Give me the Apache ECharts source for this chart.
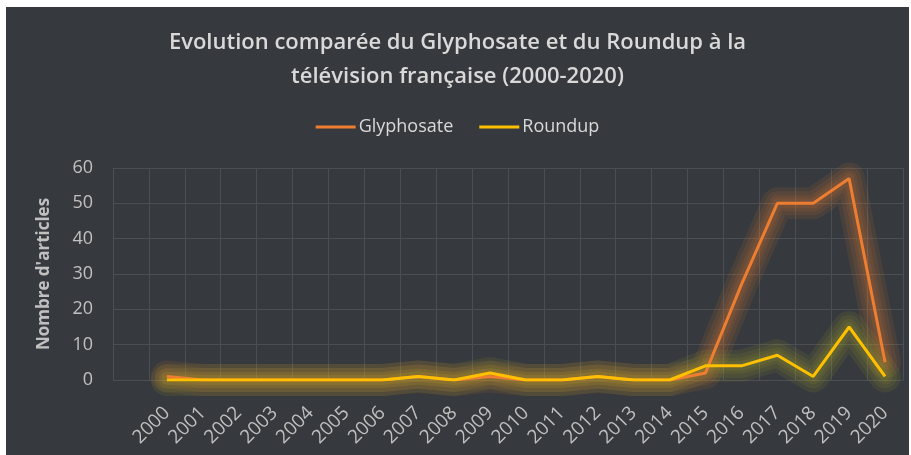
<!DOCTYPE html>
<html>
<head>
<meta charset="utf-8">
<script src="https://cdn.jsdelivr.net/npm/echarts@6/dist/echarts.min.js"></script>
<style>
  html, body { margin: 0; padding: 0; background: #fff; }
  #mainChart { position: absolute; left: 6px; top: 7px; width: 903px; height: 448px; }
</style>
</head>
<body>
<div id="mainChart"></div>
<script>
// first slot is empty, like the original chart's blank band
const years = ['', '2000', '2001', '2002', '2003', '2004', '2005', '2006', '2007', '2008', '2009', '2010',
  '2011', '2012', '2013', '2014', '2015', '2016', '2017', '2018', '2019', '2020'];
const glyphosate = [null, 1, 0, 0, 0, 0, 0, 0, 1, 0, 1, 0, 0, 1, 0, 0, 2, 27, 50, 50, 57, 5];
const roundup = [null, 0, 0, 0, 0, 0, 0, 0, 1, 0, 2, 0, 0, 1, 0, 0, 4, 4, 7, 1, 15, 1];
const yTicks = [0, 10, 20, 30, 40, 50, 60];

const font = '"Open Sans", "Noto Sans", sans-serif';

// soft halo under each line: a few wide translucent strokes
function glow(data, rgb) {
  return [32, 24, 16, 10].map(function (w) {
    return {
      type: 'line',
      data: data,
      symbol: 'none',
      silent: true,
      z: 1,
      lineStyle: { color: 'rgba(' + rgb + ',0.1)', width: w, cap: 'round', join: 'round' }
    };
  });
}

const option = {
  backgroundColor: '#36393d',
  title: {
    text: 'Evolution comparée du Glyphosate et du Roundup à la\ntélévision française (2000-2020)',
    left: 'center',
    top: 14,
    textStyle: {
      color: '#d9d9d9',
      fontSize: 22,
      fontWeight: 600,
      fontFamily: font,
      lineHeight: 34
    }
  },
  legend: {
    top: 106,
    left: 'center',
    itemGap: 26,
    itemWidth: 40,
    itemHeight: 3,
    icon: 'rect',
    data: ['Glyphosate', 'Roundup'],
    textStyle: { color: '#d9d9d9', fontSize: 18, fontFamily: font, padding: [0, 0, 0, -2] }
  },
  grid: {
    left: 107,
    right: 6,
    top: 161,
    bottom: 75
  },
  xAxis: {
    type: 'category',
    boundaryGap: true,
    data: years,
    axisLine: { show: false },
    axisTick: { show: false },
    splitLine: { show: true, interval: 0, lineStyle: { color: '#4b4e53', width: 1 } },
    axisLabel: {
      interval: 0,
      rotate: 45,
      margin: 30,
      color: '#c0c0c0',
      fontSize: 19,
      fontFamily: font
    }
  },
  yAxis: {
    type: 'value',
    min: 0,
    max: yTicks[yTicks.length - 1],
    interval: 10,
    name: "Nombre d'articles",
    nameLocation: 'middle',
    nameGap: 60,
    nameTextStyle: { color: '#c0c0c0', fontSize: 17, fontWeight: 'bold', fontFamily: font },
    axisLine: { show: false },
    axisTick: { show: false },
    splitLine: { lineStyle: { color: '#4b4e53', width: 1 } },
    axisLabel: { color: '#c0c0c0', fontSize: 18, fontFamily: font, margin: 20 }
  },
  series: [].concat(
    glow(glyphosate, '237,125,49'),
    glow(roundup, '175,175,40'),
    [
      {
        name: 'Glyphosate',
        type: 'line',
        data: glyphosate,
        symbol: 'none',
        z: 3,
        itemStyle: { color: '#ed7d31' },
        lineStyle: { color: '#ed7d31', width: 3 }
      },
      {
        name: 'Roundup',
        type: 'line',
        data: roundup,
        symbol: 'none',
        z: 3,
        itemStyle: { color: '#ffc000' },
        lineStyle: { color: '#ffc000', width: 3 }
      }
    ]
  )
};

const myChart = echarts.init(document.getElementById('mainChart'));
myChart.setOption(option);
</script>
</body>
</html>
